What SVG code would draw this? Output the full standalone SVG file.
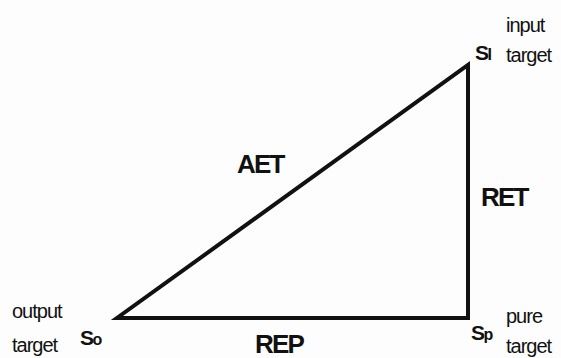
<svg xmlns="http://www.w3.org/2000/svg" width="561" height="358" viewBox="0 0 561 358">
<style>
.lbl{font-family:"Liberation Sans",Arial,sans-serif;font-size:20px;fill:#111;letter-spacing:-1px}
.big{font-family:"Liberation Sans",Arial,sans-serif;font-size:26px;font-weight:bold;fill:#111;letter-spacing:-1.8px}
.s{font-family:"Liberation Sans",Arial,sans-serif;font-size:21px;font-weight:bold;fill:#111;letter-spacing:-1.5px}
.sub{font-size:16px}
</style>
<rect width="561" height="358" fill="#fdfdfd"/>
<g id="connectors">
<path d="M117 318 L468 318 L468 65 Z" fill="none" stroke="#111" stroke-width="4" stroke-linejoin="miter"/>
</g>
<g id="node-si">
<text class="s" x="475" y="60">S<tspan class="sub">I</tspan></text>
<text class="lbl" x="506" y="32">input</text>
<text class="lbl" x="506" y="62">target</text>
</g>
<g id="node-so">
<text class="s" x="80" y="345">S<tspan class="sub">o</tspan></text>
<text class="lbl" x="12" y="318">output</text>
<text class="lbl" x="12" y="352">target</text>
</g>
<g id="node-sp">
<text class="s" x="471" y="340">S<tspan class="sub">p</tspan></text>
<text class="lbl" x="506" y="323">pure</text>
<text class="lbl" x="506" y="353">target</text>
</g>
<g id="labels">
<text class="big" x="237" y="173">AET</text>
<text class="big" x="481" y="206">RET</text>
<text class="big" x="255" y="353">REP</text>
</g>
</svg>
